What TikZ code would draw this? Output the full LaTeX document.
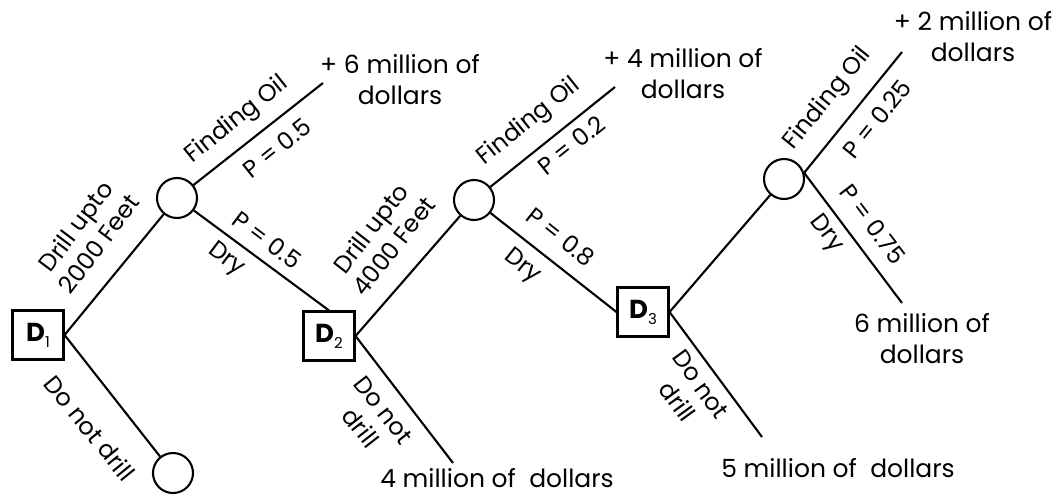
\documentclass[tikz,border=0pt]{standalone}
\usepackage{fontspec}
\setmainfont{Poppins}
\newcommand{\dnode}[1]{\textbf{D}\raisebox{-6pt}{\fontsize{15}{15}\selectfont #1}}
\begin{document}
\begin{tikzpicture}[x=1pt,y=-1pt,
  dec/.style={draw, line width=2.1pt, minimum width=51pt, minimum height=49pt, inner sep=0pt, font=\fontsize{26}{28}\selectfont},
  chance/.style={draw, circle, line width=2.1pt, minimum size=40pt, inner sep=0pt},
  br/.style={line width=2.1pt},
  lbl/.style={font=\fontsize{24}{29}\selectfont, align=center, inner sep=0pt},
  val/.style={font=\fontsize{25}{31}\selectfont, align=center, inner sep=0pt}]
\useasboundingbox (0,0) rectangle (1056,495);
% decision and chance nodes
\node[dec] (D1) at (38,335) {\dnode{1}};
\node[dec] (D2) at (329,336) {\dnode{2}};
\node[dec] (D3) at (643,312) {\dnode{3}};
\node[chance] (C1) at (177,198) {};
\node[chance] (C2) at (474,200) {};
\node[chance] (C3) at (784,179) {};
\node[chance] (C4) at (173,473) {};
% free ends
\coordinate (e1) at (323,83);
\coordinate (e2) at (615,87);
\coordinate (e3) at (902,52);
\coordinate (e4) at (902,303);
\coordinate (e5) at (453,463);
\coordinate (e6) at (762,437);
% branches
\draw[br] (D1.east) -- (C1);
\draw[br] (D1.east) -- (C4);
\draw[br] (C1) -- (e1);
\draw[br] (C1) -- (D2.north);
\draw[br] (D2.east) -- (C2);
\draw[br] (D2.east) -- (e5);
\draw[br] (C2) -- (e2);
\draw[br] (C2) -- (D3.west);
\draw[br] (D3.east) -- (C3);
\draw[br] (D3.east) -- (e6);
\draw[br] (C3.17) -- (e3);
\draw[br] (C3.17) -- (e4);
% outcome values
\node[val] (v1) at (400,80) {+ 6 million of\\dollars};
\node[val] (v2) at (683,74) {+ 4 million of\\dollars};
\node[val] (v3) at (973,37) {+ 2 million of\\dollars};
\node[val] (v4) at (922,339) {6 million of\\dollars};
\node[val] (v5) at (838,468) {5 million of\ \ dollars};
\node[val] (v6) at (497,478) {4 million of\ \ dollars};
% branch labels
\node[lbl, rotate=53] (l1) at (87,235) {Drill upto\\2000 Feet};
\node[lbl, rotate=-51] (l2) at (90,428) {Do not drill};
\node[lbl, rotate=38.6] (l3) at (237,120) {Finding Oil};
\node[lbl, rotate=38.6] (l4) at (277,148) {P = 0.5};
\node[lbl, rotate=-37] (l5) at (267,240) {P = 0.5};
\node[lbl, rotate=-37] (l6) at (226,260) {Dry};
\node[lbl, rotate=52] (l7) at (382,237) {Drill upto\\4000 Feet};
\node[lbl, rotate=38.7] (l8) at (529,122) {Finding Oil};
\node[lbl, rotate=38.7] (l9) at (571,145) {P = 0.2};
\node[lbl, rotate=-38.4] (l10) at (561,237) {P = 0.8};
\node[lbl, rotate=-38.4] (l11) at (522,267) {Dry};
\node[lbl, rotate=-52] (l12) at (372,419) {Do not\\drill};
\node[lbl, rotate=51] (l13) at (828,99) {Finding Oil};
\node[lbl, rotate=51] (l14) at (877,119) {P = 0.25};
\node[lbl, rotate=-53] (l15) at (873,224) {P = 0.75};
\node[lbl, rotate=-53] (l16) at (826,234) {Dry};
\node[lbl, rotate=-54] (l17) at (689,393) {Do not\\drill};
\end{tikzpicture}
\end{document}
